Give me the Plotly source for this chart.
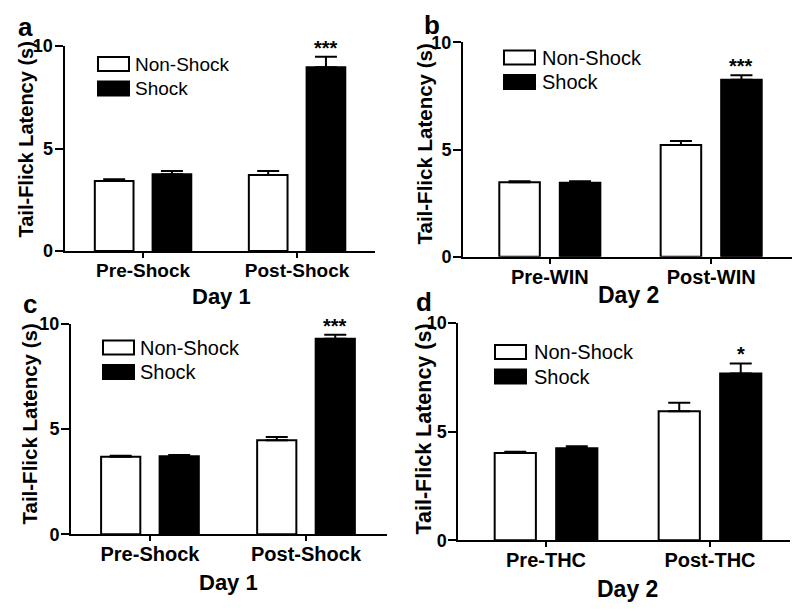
import plotly.graph_objects as go

# ---- data ----
groups_a = ["Pre-Shock", "Post-Shock"]
groups_b = ["Pre-WIN", "Post-WIN"]
groups_c = ["Pre-Shock", "Post-Shock"]
groups_d = ["Pre-THC", "Post-THC"]

nonshock_a = [3.41, 3.71]
nonshock_a_sem = [0.09, 0.19]
shock_a = [3.74, 8.96]
shock_a_sem = [0.16, 0.52]

nonshock_b = [3.47, 5.21]
nonshock_b_sem = [0.05, 0.19]
shock_b = [3.45, 8.25]
shock_b_sem = [0.07, 0.21]

nonshock_c = [3.68, 4.46]
nonshock_c_sem = [0.05, 0.16]
shock_c = [3.71, 9.28]
shock_c_sem = [0.05, 0.19]

nonshock_d = [4.01, 5.93]
nonshock_d_sem = [0.06, 0.39]
shock_d = [4.23, 7.66]
shock_d_sem = [0.09, 0.47]

stars = ["***", "***", "***", "*"]
day_titles = ["Day 1", "Day 2", "Day 1", "Day 2"]
letters = ["a", "b", "c", "d"]
y_ticks = [0, 5, 10]
y_title = "Tail-Flick Latency (s)"

# the page body has an 8px margin, so the figure starts at (8, 8)
OFF = 8
W, H = 792, 604
FONT = "Liberation Sans, Arial, sans-serif"


def px(x):
    return (x - OFF) / W


def py(y):
    return 1 - (y - OFF) / H


# panel geometry in screen pixels: axis left/right, y of 0 and of 10, x range
panels = [
    dict(groups=groups_a, ns=nonshock_a, ns_e=nonshock_a_sem, s=shock_a, s_e=shock_a_sem,
         left=64.5, right=375, y0=251, y10=46, xr=[-0.51, 1.506],
         leg=(98, 57, 133), ytitle=(25.5, 140), day=(221.5, 296), letter=(25, 27),
         fs_title=20, fs_tick=19, fs_leg=19, fs_day=22),
    dict(groups=groups_b, ns=nonshock_b, ns_e=nonshock_b_sem, s=shock_b, s_e=shock_b_sem,
         left=463, right=793, y0=256.7, y10=42.3, xr=[-0.538, 1.507],
         leg=(504, 50.5, 540), ytitle=(424, 144.5), day=(628.5, 295), letter=(432, 25),
         fs_title=20.5, fs_tick=20, fs_leg=20, fs_day=23),
    dict(groups=groups_c, ns=nonshock_c, ns_e=nonshock_c_sem, s=shock_c, s_e=shock_c_sem,
         left=71, right=387, y0=534.3, y10=323.7, xr=[-0.506, 1.519],
         leg=(103, 340.5, 137.5), ytitle=(28.5, 424), day=(228.5, 582), letter=(30, 304),
         fs_title=20.5, fs_tick=20, fs_leg=20, fs_day=22),
    dict(groups=groups_d, ns=nonshock_d, ns_e=nonshock_d_sem, s=shock_d, s_e=shock_d_sem,
         left=458.3, right=790, y0=540.3, y10=322.7, xr=[-0.535, 1.488],
         leg=(495, 345, 531.5), ytitle=(423.5, 429), day=(627.5, 589), letter=(424, 302),
         fs_title=21.5, fs_tick=20, fs_leg=20, fs_day=23),
]

BARGAP = 0.25
fig = go.Figure()
shapes = []
annotations = []

for i, p in enumerate(panels):
    n = "" if i == 0 else str(i + 1)
    xa, ya = "x" + n, "y" + n
    for name, vals, errs, fill in [("Non-Shock", p["ns"], p["ns_e"], "white"),
                                   ("Shock", p["s"], p["s_e"], "black")]:
        fig.add_trace(go.Bar(
            x=p["groups"], y=vals, name=name, xaxis=xa, yaxis=ya,
            marker=dict(color=fill, line=dict(color="black", width=2)),
            error_y=dict(type="data", array=errs, arrayminus=[0] * len(errs),
                         symmetric=False, color="black", thickness=2, width=11),
            showlegend=False,
        ))

    fig.layout["xaxis" + n] = dict(
        domain=[px(p["left"]), px(p["right"])], anchor=ya, range=p["xr"],
        type="category", showline=True, linecolor="black", linewidth=2,
        ticks="outside", ticklen=5, tickwidth=2, tickcolor="black",
        ticklabelstandoff=-4,
        showgrid=False, zeroline=False, fixedrange=True, automargin=False,
        tickfont=dict(family=FONT, size=p["fs_tick"], color="black", weight="bold"),
    )
    fig.layout["yaxis" + n] = dict(
        domain=[py(p["y0"]), py(p["y10"])], anchor=xa, range=[0, 10],
        tickvals=y_ticks, showline=True, linecolor="black", linewidth=2,
        ticks="outside", ticklen=8, tickwidth=2, tickcolor="black",
        ticklabelstandoff=-2,
        showgrid=False, zeroline=False, fixedrange=True, automargin=False,
        tickfont=dict(family=FONT, size=18, color="black", weight="bold"),
    )

    # significance stars above the shock bar of the second group
    offset = (1 - BARGAP) / 4
    annotations.append(dict(
        x=1 + offset, y=p["s"][1] + p["s_e"][1], xref=xa, yref=ya,
        text=stars[i], showarrow=False, yanchor="bottom", yshift=-4,
        font=dict(family=FONT, size=20, color="black", weight="bold"),
    ))

    # legend drawn as boxes + labels
    lx, ly, tx = p["leg"]
    for k, (label, fill) in enumerate([("Non-Shock", "white"), ("Shock", "black")]):
        top = ly + k * 24.5
        shapes.append(dict(type="rect", xref="paper", yref="paper",
                           x0=px(lx), x1=px(lx + 31), y0=py(top), y1=py(top + 14),
                           line=dict(color="black", width=2), fillcolor=fill))
        annotations.append(dict(
            x=px(tx), y=py(top + 7), xref="paper", yref="paper", text=label,
            showarrow=False, xanchor="left", yanchor="middle",
            font=dict(family=FONT, size=p["fs_leg"], color="black"),
        ))

    tx_, ty_ = p["ytitle"]
    annotations.append(dict(
        x=px(tx_), y=py(ty_), xref="paper", yref="paper", text=y_title,
        textangle=-90, showarrow=False, xanchor="center", yanchor="middle",
        font=dict(family=FONT, size=p["fs_title"], color="black", weight="bold"),
    ))
    dx, dy = p["day"]
    annotations.append(dict(
        x=px(dx), y=py(dy), xref="paper", yref="paper", text=day_titles[i],
        showarrow=False, xanchor="center", yanchor="middle",
        font=dict(family=FONT, size=p["fs_day"], color="black", weight="bold"),
    ))
    lx_, ly_ = p["letter"]
    annotations.append(dict(
        x=px(lx_), y=py(ly_), xref="paper", yref="paper", text=letters[i],
        showarrow=False, xanchor="center", yanchor="middle",
        font=dict(family=FONT, size=26, color="black", weight="bold"),
    ))

fig.update_layout(
    width=W, height=H, margin=dict(l=0, r=0, t=0, b=0),
    paper_bgcolor="white", plot_bgcolor="white",
    barmode="group", bargap=BARGAP, bargroupgap=0.33,
    shapes=shapes, annotations=annotations,
)

fig.write_html("out.html")
